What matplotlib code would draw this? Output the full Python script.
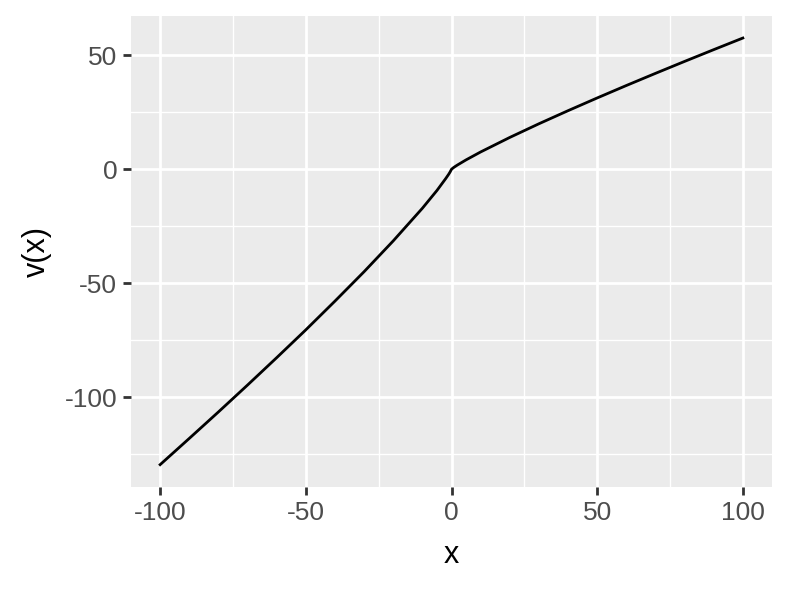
import matplotlib
matplotlib.use("Agg")
import matplotlib.pyplot as plt

plt.rcParams['font.family'] = ['Liberation Sans', 'DejaVu Sans']

# points
x_vals = [-100, -90, -80, -70, -60, -50, -40, -30, -20, -10, -5, -2, -1, -0.5, 0,
          0.5, 1, 2, 5, 10, 20, 30, 40, 50, 60, 70, 80, 90, 100]
v_vals = [-129.5, -118.0, -106.4, -94.6, -82.6, -70.4, -57.8, -44.9, -31.4, -17.1, -9.3, -4.1, -2.25, -1.22, 0,
          0.54, 1.0, 1.84, 4.12, 7.59, 13.96, 19.95, 25.69, 31.27, 36.72, 42.05, 47.29, 52.45, 57.54]

x_major = [-100, -50, 0, 50, 100]
x_minor = [-75, -25, 25, 75]
y_major = [-100, -50, 0, 50]
y_minor = [-125, -75, -25, 25]

fig = plt.figure(figsize=(7.89, 5.91), dpi=100)
ax = fig.add_axes([131 / 789, 104 / 591, 641 / 789, 471 / 591])
ax.set_facecolor("#EBEBEB")

ax.plot(x_vals, v_vals, color="black", linewidth=2.0, zorder=3)

ax.set_xlim(-110, 110)
ax.set_ylim(-139.3, 67.2)
ax.set_xticks(x_major)
ax.set_xticks(x_minor, minor=True)
ax.set_yticks(y_major)
ax.set_yticks(y_minor, minor=True)
ax.grid(which="major", color="white", linewidth=2.0)
ax.grid(which="minor", color="white", linewidth=1.0)
ax.set_axisbelow(True)

for s in ax.spines.values():
    s.set_visible(False)

ax.tick_params(which="major", length=5.5, width=2.0, color="#333333",
               labelsize=19, labelcolor="#4D4D4D", pad=4.4)
ax.tick_params(which="minor", length=0)
ax.set_xticklabels([str(v) for v in x_major])
ax.set_yticklabels([str(v) for v in y_major])

ax.set_xlabel("x", fontsize=22, labelpad=11)
ax.set_ylabel("v(x)", fontsize=22, labelpad=9)

fig.savefig("out.png", dpi=100)
